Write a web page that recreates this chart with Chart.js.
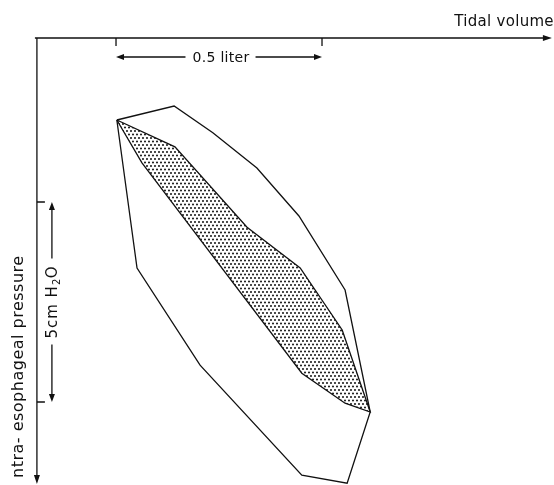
<!DOCTYPE html>
<html>
<head>
<meta charset="utf-8">
<script src="https://cdn.jsdelivr.net/npm/chart.js@4.4.0/dist/chart.umd.min.js"></script>
<style>
  body { margin: 0; background: #fff; }
  #wrap { width: 554px; height: 485px; }
</style>
</head>
<body>
<div id="wrap"><canvas id="loopChart" width="554" height="485"></canvas></div>
<script>
// Volume in liters (0 = first tick), pressure in cm H2O (0 = first tick, positive downward)
const volOuterUp = [0.002, 0.141, 0.235, 0.342, 0.444, 0.556, 0.617];
const presOuterUp = [-2.05, -2.40, -1.73, -0.85, 0.35, 2.20, 5.25];
const volOuterDown = [0.617, 0.561, 0.451, 0.204, 0.051, 0.002];
const presOuterDown = [5.25, 7.03, 6.83, 4.08, 1.65, -2.05];
const volInnerUp = [0.002, 0.143, 0.318, 0.447, 0.549, 0.617];
const presInnerUp = [-2.05, -1.38, 0.63, 1.65, 3.20, 5.25];
const volInnerDown = [0.617, 0.556, 0.451, 0.063, 0.002];
const presInnerDown = [5.25, 5.03, 4.28, -0.98, -2.05];

// axis layout
const volTicks = [0, 0.5];
const presTicks = [0, 5];
const volRange = [-0.2816, 1.0631];
const presRange = [-5.05, 7.075];
const axisOrigin = [-0.192, -4.1];
const axisEnd = [1.058, 7.05];

function toPoints(xs, ys) {
    return xs.map((x, i) => ({ x: x, y: ys[i] }));
}

// stipple pattern for the shaded loop
const pc = document.createElement('canvas');
pc.width = 4; pc.height = 7;
const pctx = pc.getContext('2d');
pctx.fillStyle = '#111';
pctx.beginPath();
pctx.arc(1, 1.5, 1.0, 0, Math.PI * 2);
pctx.arc(3, 5, 1.0, 0, Math.PI * 2);
pctx.fill();
const stipple = pctx.createPattern(pc, 'repeat');

const innerLoop = toPoints(volInnerUp, presInnerUp).concat(toPoints(volInnerDown, presInnerDown).slice(1));
const outerLoop = toPoints(volOuterUp, presOuterUp).concat(toPoints(volOuterDown, presOuterDown).slice(1));

function setFont(ctx, size, spacing) {
    ctx.font = size + 'px "DejaVu Sans"';
    ctx.letterSpacing = spacing + 'px';
}

const axesPlugin = {
    id: 'axes',
    afterDatasetsDraw(chart) {
        const ctx = chart.ctx;
        const xs = chart.scales.x, ys = chart.scales.y;
        const x0 = xs.getPixelForValue(axisOrigin[0]);
        const y0 = ys.getPixelForValue(axisOrigin[1]);
        const x1 = xs.getPixelForValue(axisEnd[0]);
        const y1 = ys.getPixelForValue(axisEnd[1]);
        ctx.save();
        ctx.strokeStyle = '#111';
        ctx.fillStyle = '#111';
        ctx.lineWidth = 1.3;
        // axes
        ctx.beginPath();
        ctx.moveTo(x0 - 2, y0); ctx.lineTo(x1 - 6, y0);
        ctx.moveTo(x0, y0); ctx.lineTo(x0, y1 - 6);
        ctx.stroke();
        ctx.beginPath();
        ctx.moveTo(x1, y0); ctx.lineTo(x1 - 9, y0 - 3); ctx.lineTo(x1 - 9, y0 + 3); ctx.closePath();
        ctx.moveTo(x0, y1); ctx.lineTo(x0 - 3, y1 - 9); ctx.lineTo(x0 + 3, y1 - 9); ctx.closePath();
        ctx.fill();
        // ticks
        ctx.beginPath();
        volTicks.forEach(v => {
            const px = xs.getPixelForValue(v);
            ctx.moveTo(px, y0); ctx.lineTo(px, y0 + 8);
        });
        presTicks.forEach(p => {
            const py = ys.getPixelForValue(p);
            ctx.moveTo(x0, py); ctx.lineTo(x0 + 8, py);
        });
        ctx.stroke();

        // volume scale bar
        const ta = xs.getPixelForValue(volTicks[0]);
        const tb = xs.getPixelForValue(volTicks[1]);
        const ay = y0 + 19;
        setFont(ctx, 14, 0.3);
        ctx.textBaseline = 'middle';
        ctx.textAlign = 'center';
        const mid = (ta + tb) / 2 + 2;
        const label = '0.5 liter';
        const tw = ctx.measureText(label).width;
        ctx.fillText(label, mid, ay + 1);
        ctx.beginPath();
        ctx.moveTo(ta + 6, ay); ctx.lineTo(mid - tw / 2 - 7, ay);
        ctx.moveTo(mid + tw / 2 + 6, ay); ctx.lineTo(tb - 6, ay);
        ctx.stroke();
        ctx.beginPath();
        ctx.moveTo(ta, ay); ctx.lineTo(ta + 8, ay - 3); ctx.lineTo(ta + 8, ay + 3); ctx.closePath();
        ctx.moveTo(tb, ay); ctx.lineTo(tb - 8, ay - 3); ctx.lineTo(tb - 8, ay + 3); ctx.closePath();
        ctx.fill();

        // pressure scale bar
        const pa = ys.getPixelForValue(presTicks[0]);
        const pb = ys.getPixelForValue(presTicks[1]);
        const ax = x0 + 15;
        const pmid = (pa + pb) / 2;
        ctx.save();
        ctx.translate(ax + 1, pmid);
        ctx.rotate(-Math.PI / 2);
        ctx.textAlign = 'left';
        setFont(ctx, 15, 1);
        const wA = ctx.measureText('5cm H').width;
        setFont(ctx, 10, 0.5);
        const wB = ctx.measureText('2').width;
        setFont(ctx, 15, 1);
        const wC = ctx.measureText('O').width;
        const total = wA + wB + wC;
        let cx = -total / 2;
        ctx.fillText('5cm H', cx, 0); cx += wA;
        setFont(ctx, 10, 0.5);
        ctx.fillText('2', cx, 4); cx += wB;
        setFont(ctx, 15, 1);
        ctx.fillText('O', cx, 0);
        ctx.restore();
        ctx.beginPath();
        ctx.moveTo(ax, pa + 6); ctx.lineTo(ax, pmid - total / 2 - 7);
        ctx.moveTo(ax, pmid + total / 2 + 6); ctx.lineTo(ax, pb - 6);
        ctx.stroke();
        ctx.beginPath();
        ctx.moveTo(ax, pa); ctx.lineTo(ax - 3, pa + 8); ctx.lineTo(ax + 3, pa + 8); ctx.closePath();
        ctx.moveTo(ax, pb); ctx.lineTo(ax - 3, pb - 8); ctx.lineTo(ax + 3, pb - 8); ctx.closePath();
        ctx.fill();

        // axis titles
        setFont(ctx, 15, 0.3);
        ctx.textAlign = 'right';
        ctx.textBaseline = 'alphabetic';
        ctx.fillText('Tidal volume', x1 + 2, y0 - 12);
        ctx.save();
        ctx.translate(x0 - 18, y1 - 6);
        ctx.rotate(-Math.PI / 2);
        ctx.textAlign = 'left';
        ctx.textBaseline = 'middle';
        setFont(ctx, 16, 0.5);
        ctx.fillText('ntra- esophageal pressure', 0, 0);
        ctx.restore();
        ctx.restore();
    }
};

new Chart(document.getElementById('loopChart'), {
    type: 'scatter',
    data: {
        datasets: [{
            label: 'Inner loop',
            data: innerLoop,
            showLine: true,
            borderColor: '#111',
            borderWidth: 1.3,
            backgroundColor: stipple,
            fill: 'shape',
            pointRadius: 0,
            tension: 0
        }, {
            label: 'Outer loop',
            data: outerLoop,
            showLine: true,
            borderColor: '#111',
            borderWidth: 1.3,
            fill: false,
            pointRadius: 0,
            tension: 0
        }]
    },
    plugins: [axesPlugin],
    options: {
        responsive: false,
        animation: false,
        layout: { padding: 0 },
        plugins: {
            legend: { display: false },
            tooltip: { enabled: false }
        },
        scales: {
            x: { type: 'linear', display: false, min: volRange[0], max: volRange[1] },
            y: { type: 'linear', display: false, reverse: true, min: presRange[0], max: presRange[1] }
        }
    }
});
</script>
</body>
</html>
